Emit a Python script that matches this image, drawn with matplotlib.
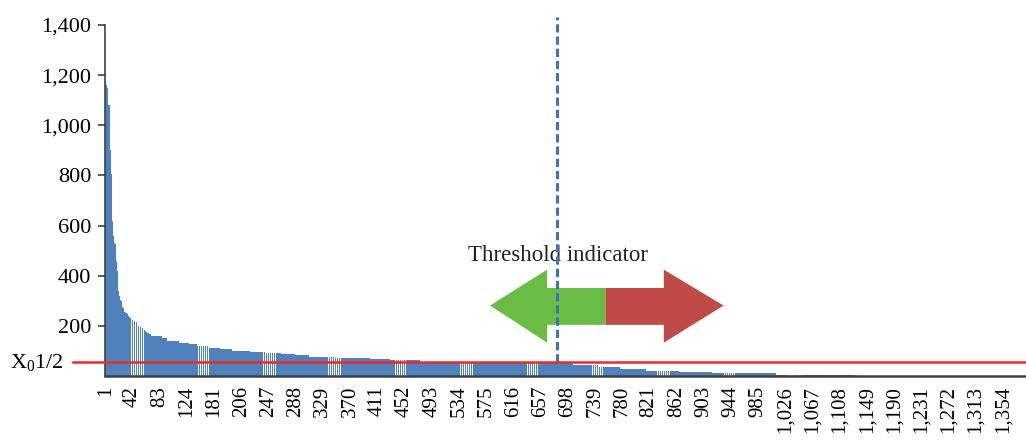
import numpy as np
import matplotlib
matplotlib.use('Agg')
from matplotlib import pyplot as plt
from matplotlib.patches import Polygon

plt.rcParams['font.family'] = ['Liberation Serif', 'DejaVu Serif']
plt.rcParams['mathtext.fontset'] = 'custom'
plt.rcParams['mathtext.rm'] = 'Liberation Serif'

# bar heights
head = [1165, 1160, 1160, 1150, 1085, 1080, 1080, 1075, 900, 805,
        700, 620, 560, 530, 530, 525, 490, 460, 420, 375,
        340, 318, 316, 305, 300, 290, 275, 270, 262, 255,
        252, 250, 250, 248, 245, 240, 235, 233, 232, 230,
        228, 225, 222, 221, 220, 220, 219, 215, 210, 205,
        200, 200, 198, 195, 193, 192, 190, 188, 185, 182,
        180, 178, 175, 173, 172, 170, 168, 168, 167, 165]
tail_levels = [160, 150, 140, 132, 126, 119, 112, 106, 101, 96,
               91, 87, 83, 77, 72, 67, 62, 57, 52, 44,
               35, 27, 21, 17, 10, 5, 0]
tail_counts = [16, 8, 18, 15, 12, 18, 17, 17, 27, 25,
               23, 21, 21, 39, 52, 31, 45, 90, 140, 40,
               31, 40, 50, 49, 97, 123, 252]

values = list(head)
for lv, n in zip(tail_levels, tail_counts):
    values += [lv] * n
cats = np.arange(1, len(values) + 1)

xlabels = ['1', '42', '83', '124', '181', '206', '247', '288', '329', '370',
           '411', '452', '493', '534', '575', '616', '657', '698', '739', '780',
           '821', '862', '903', '944', '985', '1,026', '1,067', '1,108', '1,149',
           '1,190', '1,231', '1,272', '1,313', '1,354']
xticks = [1 + 41 * k for k in range(len(xlabels))]
yticks = [200, 400, 600, 800, 1000, 1200, 1400]
ylabels = ['200', '400', '600', '800', '1,000', '1,200', '1,400']

threshold = 55
cut_cat = 682

fig = plt.figure(figsize=(10.26, 4.4), dpi=100)
ax = fig.add_axes([105 / 1026, 1 - 376 / 440, 920 / 1026, 351 / 440])

ax.bar(cats, values, width=0.9, color='#4F81BD', linewidth=0)

ax.set_xlim(0.5, len(values) + 0.5)
ax.set_ylim(0, 1400)
ax.set_xticks(xticks)
ax.set_xticklabels(xlabels, rotation=90, fontsize=15)
ax.set_yticks(yticks)
ax.set_yticklabels(ylabels, fontsize=16)
ax.tick_params(axis='x', length=0, pad=7)
ax.tick_params(axis='y', length=5, width=1.2, color='#404040', pad=5)
for s in ['top', 'right']:
    ax.spines[s].set_visible(False)
ax.spines['left'].set_color('#404040')
ax.spines['left'].set_linewidth(1.2)
ax.spines['bottom'].set_color('#404040')
ax.spines['bottom'].set_linewidth(1.8)

# threshold line and label
ax.axhline(threshold, xmin=-0.035, xmax=1.0, color='#F02828', lw=1.8,
           clip_on=False, zorder=5)
ax.text(-0.103, threshold, r'$\mathregular{X_0}$1/2', fontsize=16,
        ha='left', va='center', transform=ax.get_yaxis_transform())

# vertical dashed cut
ax.plot([cut_cat, cut_cat], [threshold, 1430], color='#3F72BE', lw=2.2,
        dashes=(2.7, 1.3), clip_on=False, zorder=4)

# double arrow
green = [(581, 281), (667, 424), (667, 351), (755, 351), (755, 204),
         (667, 204), (667, 133)]
red = [(755, 351), (843, 351), (843, 424), (933, 281), (843, 133),
       (843, 204), (755, 204)]
ax.add_patch(Polygon(green, closed=True, facecolor='#69BD45', edgecolor='none',
                     zorder=3, clip_on=False))
ax.add_patch(Polygon(red, closed=True, facecolor='#BE4B48', edgecolor='none',
                     zorder=3, clip_on=False))
ax.text(548, 480, 'Threshold indicator', fontsize=16.5, ha='left', va='center',
        color='#222222')

fig.savefig('out.png', dpi=100)
